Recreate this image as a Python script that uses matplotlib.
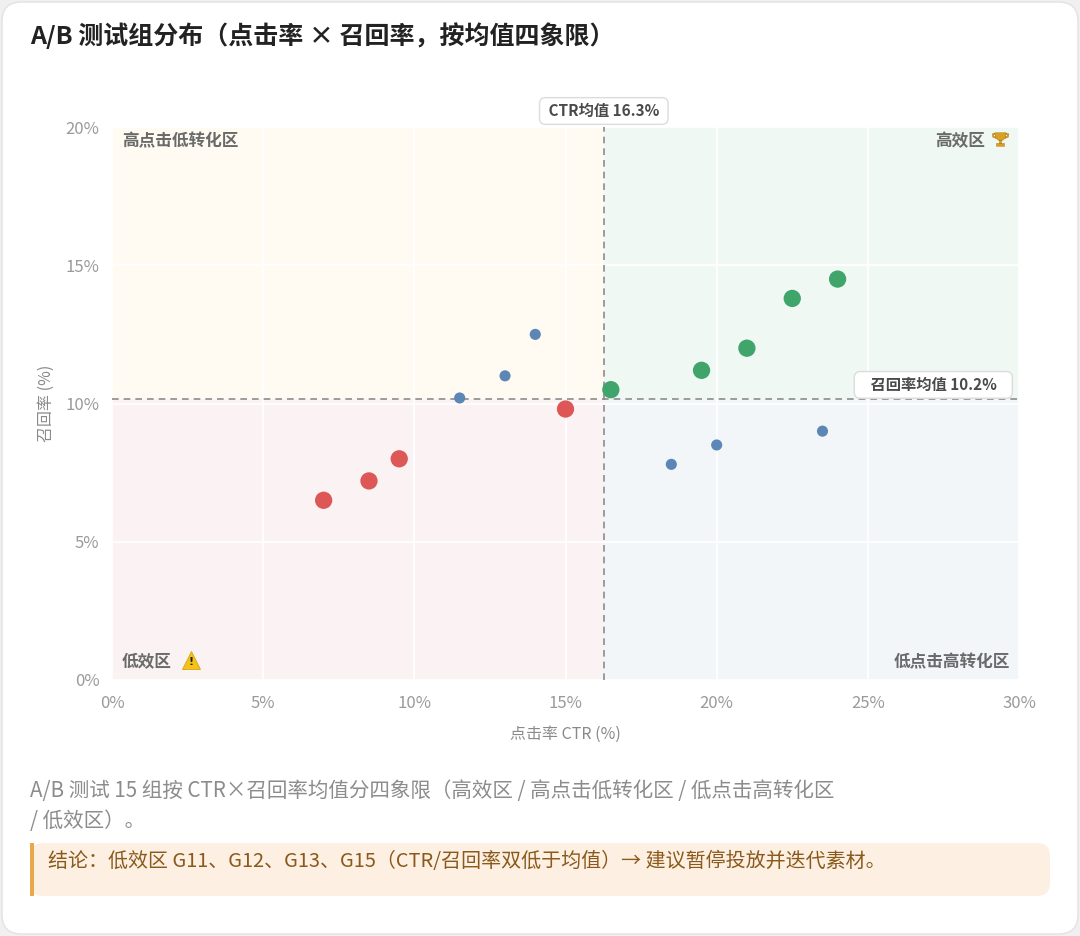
import numpy as np
import matplotlib
matplotlib.use("Agg")
import matplotlib.pyplot as plt
from matplotlib.patches import FancyBboxPatch, Rectangle
from matplotlib.path import Path

plt.rcParams['font.family'] = ['Noto Sans CJK SC', 'DejaVu Sans']

# ---- data ----
groups = ["G1", "G2", "G3", "G4", "G5", "G6", "G7", "G8", "G9", "G10",
          "G11", "G12", "G13", "G14", "G15"]
ctr = [16.5, 19.5, 21.0, 22.5, 24.0, 18.5, 20.0, 23.5, 13.0, 14.0,
       15.0, 9.5, 8.5, 11.5, 7.0]
recall = [10.5, 11.2, 12.0, 13.8, 14.5, 7.8, 8.5, 9.0, 11.0, 12.5,
          9.8, 8.0, 7.2, 10.2, 6.5]
x_ticks = [0, 5, 10, 15, 20, 25, 30]
y_ticks = [0, 5, 10, 15, 20]
x_tick_labels = [f"{v}%" for v in x_ticks]
y_tick_labels = [f"{v}%" for v in y_ticks]

title = "A/B 测试组分布（点击率 × 召回率，按均值四象限）"
caption1 = "A/B 测试 15 组按 CTR×召回率均值分四象限（高效区 / 高点击低转化区 / 低点击高转化区"
caption2 = "/ 低效区）。"
conclusion = "结论：低效区 G11、G12、G13、G15（CTR/召回率双低于均值）→ 建议暂停投放并迭代素材。"

ctr = np.array(ctr)
recall = np.array(recall)
mx = ctr.mean()
my = recall.mean()

W, H = 1080, 936
fig = plt.figure(figsize=(W / 100, H / 100), dpi=100)
fig.patch.set_facecolor("#F0F0F0")

# card
card = FancyBboxPatch((2 / W, 2 / H), (W - 4) / W, (H - 4) / H,
                      boxstyle="round,pad=0,rounding_size=0.018",
                      transform=fig.transFigure, facecolor="white",
                      edgecolor="#E2E2E2", linewidth=1.0, zorder=-5,
                      mutation_aspect=W / H)
fig.patches.append(card)

ax = fig.add_axes([112 / W, 1 - 680 / H, (1019 - 112) / W, (680 - 127) / H])
ax.set_facecolor("white")
ax.set_xlim(0, 30)
ax.set_ylim(0, 20)

# quadrant backgrounds
quad = [
    (0, my, mx, 20 - my, "#FFFBF2"),
    (mx, my, 30 - mx, 20 - my, "#EFF8F2"),
    (0, 0, mx, my, "#FBF3F3"),
    (mx, 0, 30 - mx, my, "#F2F6F8"),
]
for x0, y0, w, h, c in quad:
    ax.add_patch(Rectangle((x0, y0), w, h, facecolor=c, edgecolor="none", zorder=0))

ax.set_axisbelow(True)
ax.grid(True, color="white", linewidth=1.2)
for s in ax.spines.values():
    s.set_visible(False)
ax.set_xticks(x_ticks)
ax.set_xticklabels(x_tick_labels)
ax.set_yticks(y_ticks)
ax.set_yticklabels(y_tick_labels)
ax.tick_params(length=0, colors="#9A9A9A", labelsize=12)
ax.tick_params(axis="x", pad=11)
ax.tick_params(axis="y", pad=9)
ax.set_xlabel("点击率 CTR (%)", color="#8A8A8A", fontsize=11.5, labelpad=10)
ax.set_ylabel("召回率 (%)", color="#8A8A8A", fontsize=11.5, labelpad=8)

# mean lines
ax.axvline(mx, color="#8C8C8C", linestyle=(0, (4, 3)), linewidth=1.2, zorder=2)
ax.axhline(my, color="#8C8C8C", linestyle=(0, (4, 3)), linewidth=1.2, zorder=2)

# points
green, red, blue = "#40A56B", "#DD5757", "#5B86B6"
cols, sizes = [], []
for x, y in zip(ctr, recall):
    if x >= mx and y >= my:
        cols.append(green); sizes.append(155)
    elif x < mx and y < my:
        cols.append(red); sizes.append(155)
    else:
        cols.append(blue); sizes.append(64)
ax.scatter(ctr, recall, s=sizes, c=cols, edgecolors="none", zorder=3)

# mean labels
box = dict(boxstyle="round,pad=0.35,rounding_size=0.4", facecolor="white",
           edgecolor="#DCDCDC", linewidth=1.0)
ax.annotate(f" CTR均值 {mx:.1f}% ", xy=(mx, 1), xycoords=("data", "axes fraction"),
            xytext=(0, 16), textcoords="offset pixels", ha="center", va="center",
            fontsize=11, fontweight="bold", color="#4A4A4A", bbox=box, zorder=5,
            annotation_clip=False)
ax.annotate(f"   召回率均值 {my:.1f}%   ", xy=(1, my), xycoords=("axes fraction", "data"),
            xytext=(-12, 14), textcoords="offset pixels", ha="right", va="center",
            fontsize=11, fontweight="bold", color="#4A4A4A", bbox=box, zorder=5)

# quadrant labels
qkw = dict(xycoords="axes fraction", textcoords="offset pixels", fontsize=12,
           fontweight="bold", color="#6A6A6A", va="center", zorder=4)
ax.annotate("高点击低转化区", xy=(0, 1), xytext=(10, -14), ha="left", **qkw)
ax.annotate("高效区", xy=(1, 1), xytext=(-34, -14), ha="right", **qkw)
ax.annotate("低效区", xy=(0, 0), xytext=(10, 18), ha="left", **qkw)
ax.annotate("低点击高转化区", xy=(1, 0), xytext=(-9, 18), ha="right", **qkw)

# trophy icon
verts, codes = [], []
def poly(pts):
    for i, p in enumerate(pts):
        verts.append(p)
        codes.append(Path.MOVETO if i == 0 else Path.LINETO)
    verts.append(pts[0]); codes.append(Path.CLOSEPOLY)
poly([(-0.42, 0.5), (0.42, 0.5), (0.36, 0.15), (0.18, -0.05), (-0.18, -0.05), (-0.36, 0.15)])
poly([(-0.07, -0.05), (0.07, -0.05), (0.07, -0.3), (-0.07, -0.3)])
poly([(-0.3, -0.3), (0.3, -0.3), (0.3, -0.5), (-0.3, -0.5)])
poly([(-0.42, 0.45), (-0.62, 0.42), (-0.58, 0.18), (-0.34, 0.08), (-0.36, 0.18), (-0.5, 0.24), (-0.52, 0.36), (-0.41, 0.37)])
poly([(0.42, 0.45), (0.62, 0.42), (0.58, 0.18), (0.34, 0.08), (0.36, 0.18), (0.5, 0.24), (0.52, 0.36), (0.41, 0.37)])
trophy = Path(verts, codes)
tx = ax.transAxes.inverted().transform(ax.transAxes.transform((1, 1)) + np.array([-19, -12]))
ax.plot([tx[0]], [tx[1]], marker=trophy, markersize=12, color="#D9A022",
        markeredgecolor="#B9831A", markeredgewidth=0.4, transform=ax.transAxes,
        zorder=4, clip_on=False)

# warning icon
wx = ax.transAxes.inverted().transform(ax.transAxes.transform((0, 0)) + np.array([79, 20]))
ax.plot([wx[0]], [wx[1]], marker="^", markersize=13, color="#F4C21B",
        markeredgecolor="#D8A40E", markeredgewidth=0.6, transform=ax.transAxes,
        zorder=4, clip_on=False)
ax.annotate("!", xy=(wx[0], wx[1]), xycoords="axes fraction", xytext=(0, -2),
            textcoords="offset pixels", ha="center", va="center", fontsize=8,
            fontweight="bold", color="#222222", family="DejaVu Sans", zorder=5)

# title & captions
fig.text(30 / W, 1 - 36 / H, title, fontsize=18, fontweight="bold", color="#222222",
         ha="left", va="center")
fig.text(30 / W, 1 - 791 / H, caption1, fontsize=14.8, color="#8C8C8C", ha="left", va="center")
fig.text(30 / W, 1 - 821 / H, caption2, fontsize=14.8, color="#8C8C8C", ha="left", va="center")

cbox = FancyBboxPatch((30 / W, 1 - 896 / H), (1050 - 30) / W, (896 - 843) / H,
                      boxstyle="round,pad=0,rounding_size=0.012", transform=fig.transFigure,
                      facecolor="#FDF0E2", edgecolor="none", zorder=1, mutation_aspect=W / H)
fig.patches.append(cbox)
fig.patches.append(Rectangle((30 / W, 1 - 896 / H), 4 / W, (896 - 843) / H,
                             transform=fig.transFigure, facecolor="#E9A84C",
                             edgecolor="none", zorder=2))
fig.text(48 / W, 1 - 862 / H, conclusion, fontsize=14.4, color="#8A5A1C", ha="left",
         va="center", zorder=3)

fig.savefig("out.png", dpi=100, facecolor=fig.get_facecolor())
